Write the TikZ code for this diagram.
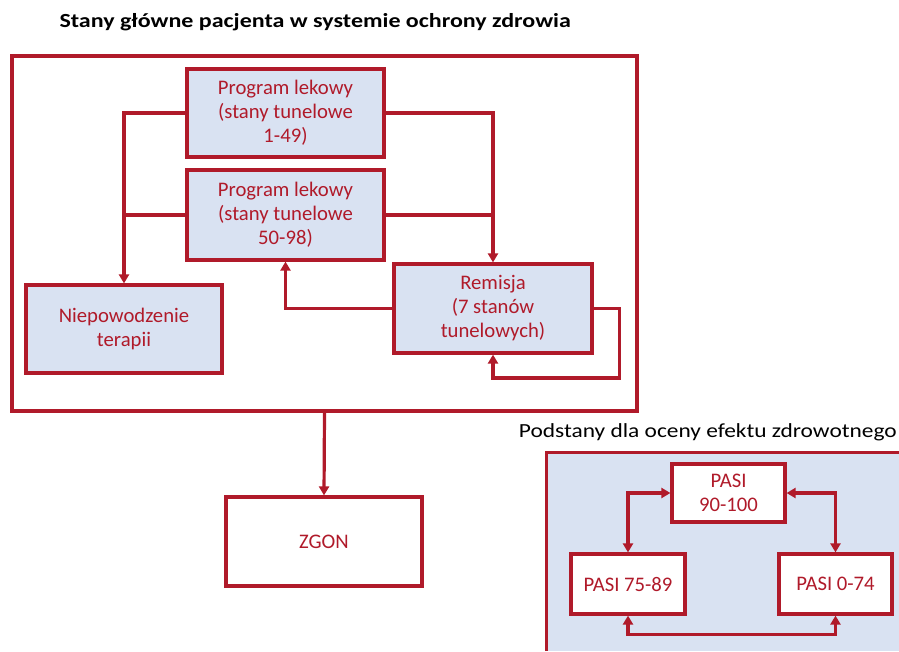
\documentclass[tikz,border=0pt]{standalone}
\usepackage{fontspec}
\setmainfont{Carlito}
\newfontfamily\widefont[FakeStretch=1.2]{Carlito}
\newfontfamily\subfont[FakeStretch=1.17]{Carlito}
\usetikzlibrary{arrows.meta}
\definecolor{rd}{HTML}{B01A2A}
\definecolor{lb}{HTML}{D9E2F2}
\tikzset{
  every node/.style={font=\fontsize{20.7}{24}\selectfont},
  box/.style={draw=rd, line width=3.2pt, fill=lb, text=rd, align=center, inner sep=0pt},
  wbox/.style={box, fill=white},
  ln/.style={draw=rd, line width=3.2pt},
  arr/.style={ln, -{Triangle[width=10pt,length=9pt]}},
  darr/.style={ln, {Triangle[width=10pt,length=9pt]}-{Triangle[width=10pt,length=9pt]}},
}
\begin{document}
\begin{tikzpicture}[x=1pt,y=1pt]
\useasboundingbox (0,0) rectangle (899,-651);
\node[font=\widefont\fontsize{20}{24}\selectfont\bfseries, anchor=west] (title) at (56,-22) {Stany główne pacjenta w systemie ochrony zdrowia};
\node[ln, minimum width=625pt, minimum height=355pt, inner sep=0pt] (outer) at (324.5,-233.5) {};
\node[box, minimum width=197pt, minimum height=88pt] (p1) at (285.5,-113) {Program lekowy\\(stany tunelowe\\1-49)};
\node[box, minimum width=197pt, minimum height=90pt] (p2) at (285.5,-215) {Program lekowy\\(stany tunelowe\\50-98)};
\node[box, minimum width=196pt, minimum height=88pt] (nie) at (124,-329) {Niepowodzenie\\terapii};
\node[box, minimum width=198pt, minimum height=89pt] (rem) at (493,-308.5) {Remisja\\(7 stanów\\tunelowych)};
\node[wbox, minimum width=196pt, minimum height=89pt] (zgon) at (324,-541.5) {ZGON};
\draw[arr] (p1.west) -| (nie.north);
\draw[ln] (p2.west) -- (p2.west -| nie.north);
\draw[arr] (p1.east) -| (rem.north);
\draw[ln] (p2.east) -- (p2.east -| rem.north);
\draw[arr] (rem.west) -| (p2.south);
\draw[arr] (rem.east) -- ++(26,0) -- ++(0,-69.5) -| (rem.south);
\draw[arr] (outer.south) -- (zgon.north);
% subpanel
\node[font=\subfont\fontsize{20}{24}\selectfont, anchor=east, inner sep=0pt] (sub) at (897,-432) {Podstany dla oceny efektu zdrowotnego};
\node[fill=lb, minimum width=352pt, minimum height=198pt, inner sep=0pt] (panel) at (723,-552) {};
\draw[ln] (panel.south west) -- (panel.north west) -- (panel.north east);
\node[wbox, minimum width=113pt, minimum height=58pt] (p90) at (728.5,-493) {PASI\\90-100};
\node[wbox, minimum width=114pt, minimum height=60pt] (p75) at (628,-584) {PASI 75-89};
\node[wbox, minimum width=113pt, minimum height=60pt] (p0) at (835.5,-584) {PASI 0-74};
\draw[darr] (p90.west) -| (p75.north);
\draw[darr] (p90.east) -| (p0.north);
\draw[darr] (p75.south) -- ++(0,-19) -| (p0.south);
\end{tikzpicture}
\end{document}
